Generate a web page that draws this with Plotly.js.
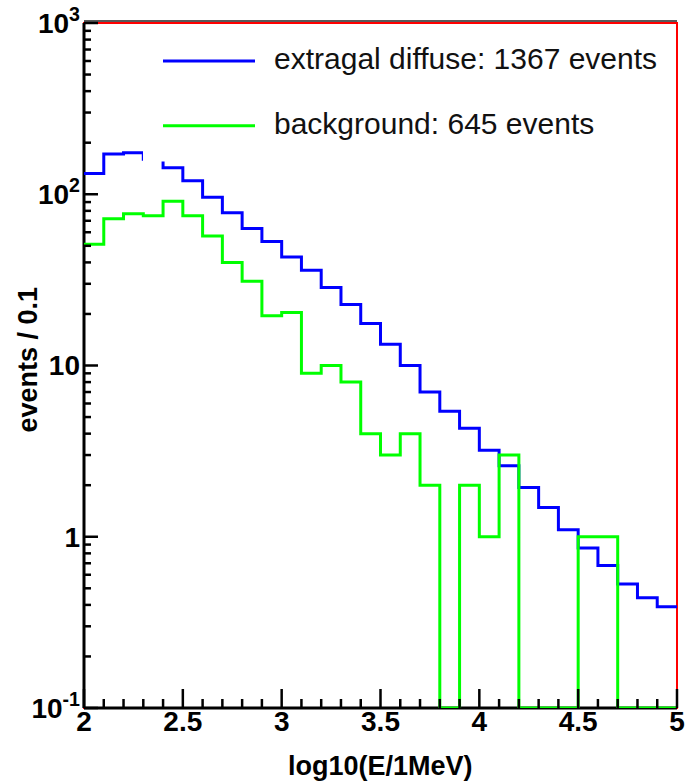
<!DOCTYPE html>
<html>
<head>
<meta charset="utf-8">
<script src="https://cdn.plot.ly/plotly-3.0.1.min.js"></script>
<style>
  html, body { margin: 0; padding: 0; background: #fff; }
  #chart { width: 687px; height: 782px; }
</style>
</head>
<body>
<div id="chart"></div>
<script>
// Energy bins: lower edge of each bin in log10(E/1MeV), all 0.1 wide
const binLow = [2.0, 2.1, 2.2, 2.3, 2.4, 2.5, 2.6, 2.7, 2.8, 2.9,
                3.0, 3.1, 3.2, 3.3, 3.4, 3.5, 3.6, 3.7, 3.8, 3.9,
                4.0, 4.1, 4.2, 4.3, 4.4, 4.5, 4.6, 4.7, 4.8, 4.9];
const binWidth = 0.1;

// Events per bin
const extragalDiffuse = [132, 172, 175, 160, 143, 120, 96, 78, 63, 53,
                         43, 36, 28.5, 22.7, 17.6, 13.3, 10.0, 7.0, 5.4, 4.3,
                         3.2, 2.6, 1.94, 1.48, 1.10, 0.86, 0.68, 0.53, 0.44, 0.39];
const background = [51, 72, 77, 75, 91, 75, 57, 40, 31, 19.5,
                    20.4, 9, 10, 8, 4, 3, 4, 2, 0, 2,
                    1, 3, 0, 0, 0, 1, 1, 0, 0, 0];

const seriesNames = ['extragal diffuse: 1367 events', 'background: 645 events'];
const seriesColors = ['#0000ff', '#00ff00'];

// Axis ticks
const xTickVals = [2, 2.5, 3, 3.5, 4, 4.5, 5];
const xTickText = ['2', '2.5', '3', '3.5', '4', '4.5', '5'];
const yTickVals = [0.1, 1, 10, 100, 1000];
const yTickText = ['10<sup>-1</sup>', '1', '10', '10<sup>2</sup>', '10<sup>3</sup>'];

const xTitle = 'log10(E/1MeV)';
const yTitle = 'events / 0.1';

// Axis ranges (y in log10 units)
const X_RANGE = [2, 5];
const Y_RANGE = [-1, 3];

// Page geometry (px) and helpers to place decorations in paper coordinates
const W = 687, H = 782;
const M = { l: 84, r: 10, t: 23, b: 74 };
const plotW = W - M.l - M.r;
const plotH = H - M.t - M.b;
const px = x => (x - M.l) / plotW;
const py = y => (H - M.b - y) / plotH;
const xFrac = v => (v - X_RANGE[0]) / (X_RANGE[1] - X_RANGE[0]);
const yFrac = v => (Math.log10(v) - Y_RANGE[0]) / (Y_RANGE[1] - Y_RANGE[0]);

const Y_MIN = 0.1;   // empty bins sit on the bottom of the log axis

function stepTrace(vals, color, name) {
  const n = vals.length;
  const x = binLow.concat([binLow[n - 1] + binWidth]);
  const y = vals.concat([vals[n - 1]]).map(v => (v > 0 ? v : Y_MIN));
  return {
    type: 'scatter', mode: 'lines', name: name,
    x: x, y: y,
    line: { color: color, width: 3, shape: 'hv' },
    hoverinfo: 'skip', showlegend: false
  };
}

const traces = [
  stepTrace(extragalDiffuse, seriesColors[0], seriesNames[0]),
  stepTrace(background, seriesColors[1], seriesNames[1])
];

const font = 'Liberation Sans, Arial, Helvetica, sans-serif';
const tickFont = { family: font, size: 28, color: '#000', weight: 'bold' };

// Frame: red box, black axis lines on the left and bottom, dark rule on top
const frameShapes = [
  { type: 'rect', xref: 'paper', yref: 'paper', layer: 'below',
    x0: 0, x1: 1, y0: 0, y1: 1, line: { color: '#ff0000', width: 2 } },
  { type: 'line', xref: 'paper', yref: 'paper', layer: 'below',
    x0: 0, x1: 0, y0: 0, y1: 1, line: { color: '#000', width: 3 } },
  { type: 'line', xref: 'paper', yref: 'paper', layer: 'below',
    x0: 0, x1: 1, y0: 0, y1: 0, line: { color: '#000', width: 3 } },
  { type: 'line', xref: 'paper', yref: 'paper', layer: 'above',
    x0: 0, x1: 1, ysizemode: 'pixel', yanchor: 1, y0: 2, y1: 2,
    line: { color: '#222', width: 1.5 } }
];

// Tick marks pointing into the frame (major + minor)
const xMinorTicks = [];
for (let i = 0; i <= 30; i++) {
  const v = Math.round((2 + i * 0.1) * 10) / 10;
  if (!xTickVals.includes(v)) xMinorTicks.push(v);
}
const yMinorTicks = [];
for (let e = -1; e <= 2; e++) {
  for (let d = 2; d <= 9; d++) yMinorTicks.push(d * Math.pow(10, e));
}
const tickLine = () => ({ color: '#000', width: 2.5 });
const xTick = (v, len) => ({
  type: 'line', layer: 'above', xref: 'paper', yref: 'paper',
  x0: xFrac(v), x1: xFrac(v), y0: 0, y1: len / plotH, line: tickLine()
});
const yTick = (v, len) => ({
  type: 'line', layer: 'above', xref: 'paper', yref: 'paper',
  x0: 0, x1: len / plotW, y0: yFrac(v), y1: yFrac(v), line: tickLine()
});
const tickShapes = [].concat(
  xTickVals.map(v => xTick(v, 19)),
  xMinorTicks.map(v => xTick(v, 9)),
  yTickVals.map(v => yTick(v, 14)),
  yMinorTicks.map(v => yTick(v, 7))
);

// Hand-built legend: white panel, sample lines and labels
const legendRows = [61, 125.7];
const legendShapes = [
  { type: 'rect', xref: 'paper', yref: 'paper', layer: 'above',
    x0: px(143), x1: px(668), y0: py(161.5), y1: py(32),
    fillcolor: '#ffffff', line: { width: 0 } }
];
const legendNotes = [];
seriesNames.forEach((name, i) => {
  legendShapes.push({
    type: 'line', xref: 'paper', yref: 'paper', layer: 'above',
    x0: px(163), x1: px(255), y0: py(legendRows[i]), y1: py(legendRows[i]),
    line: { color: seriesColors[i], width: 3 }
  });
  legendNotes.push({
    xref: 'paper', yref: 'paper', x: px(272), y: py(legendRows[i] - 2),
    xanchor: 'left', yanchor: 'middle', showarrow: false,
    text: name, font: { family: font, size: 30, color: '#111' }
  });
});

const layout = {
  width: W, height: H,
  margin: { l: M.l, r: M.r, t: M.t, b: M.b, pad: 0 },
  paper_bgcolor: '#ffffff', plot_bgcolor: '#ffffff',
  showlegend: false,
  font: { family: font, color: '#000' },
  xaxis: {
    range: X_RANGE, tickmode: 'array', tickvals: xTickVals, ticktext: xTickText,
    ticks: '', showline: false, showgrid: false, zeroline: false,
    tickfont: tickFont, ticklabelstandoff: -6
  },
  yaxis: {
    type: 'log', range: Y_RANGE, tickmode: 'array', tickvals: yTickVals, ticktext: yTickText,
    ticks: '', showline: false, showgrid: false, zeroline: false,
    tickfont: tickFont, ticklabelstandoff: 3
  },
  shapes: frameShapes.concat(legendShapes, tickShapes),
  annotations: [
    { xref: 'paper', yref: 'paper', x: 0.5, y: 0, yshift: -58,
      xanchor: 'center', yanchor: 'middle', showarrow: false,
      text: xTitle, font: { family: font, size: 27, color: '#000', weight: 'bold' } },
    { xref: 'paper', yref: 'paper', x: 0, xshift: -57, y: 0.5, yshift: 6,
      xanchor: 'center', yanchor: 'middle', showarrow: false, textangle: -90,
      text: yTitle, font: { family: font, size: 27, color: '#000', weight: 'bold' } }
  ].concat(legendNotes)
};

Plotly.newPlot('chart', traces, layout, { staticPlot: true, displayModeBar: false });
</script>
</body>
</html>
